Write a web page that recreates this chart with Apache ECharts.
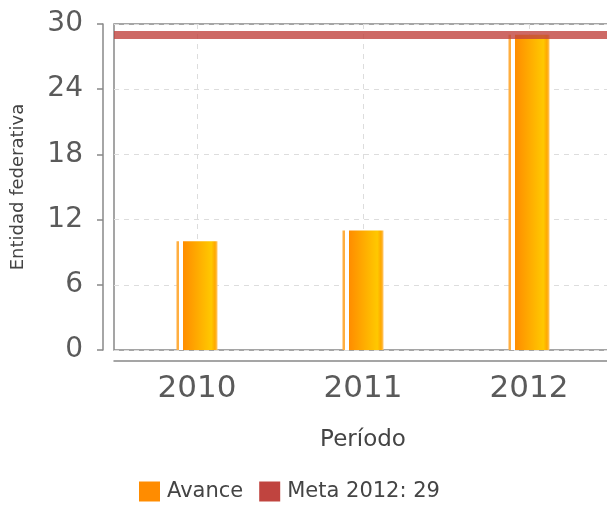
<!DOCTYPE html>
<html lang="es">
<head>
    <meta charset="UTF-8">
    <title>Avance</title>
    <script src="https://cdn.jsdelivr.net/npm/echarts@6/dist/echarts.min.js"></script>
    <style>
        html, body {
            margin: 0;
            padding: 0;
            background: #fff;
        }
        #chart {
            width: 607px;
            height: 508px;
        }
    </style>
</head>
<body>
<div id="chart"></div>
<script>
    // datos
    var periodos = ['2010', '2011', '2012'];
    var avance = [10, 11, 29];
    var meta = 29;
    var metaNombre = 'Meta 2012: ' + meta;

    var gris = '#5a5a5a';

    var barColor = {
        type: 'linear', x: 0, y: 0, x2: 1, y2: 0,
        colorStops: [
            {offset: 0, color: '#ffae40'},
            {offset: 0.07, color: '#ffae40'},
            {offset: 0.07, color: '#ffffff'},
            {offset: 0.15, color: '#ffffff'},
            {offset: 0.15, color: '#ff8c00'},
            {offset: 0.85, color: '#ffc800'},
            {offset: 0.94, color: '#ffa800'},
            {offset: 1, color: '#ffc870'}
        ]
    };

    var option = {
        animation: false,
        grid: {
            left: 114,
            top: 24,
            width: 498,
            bottom: 158,
            outerBoundsMode: 'none',
            containLabel: false,
            show: true,
            borderColor: '#888',
            borderWidth: 1.5
        },
        legend: {
            bottom: 1,
            left: 134,
            itemWidth: 21,
            itemHeight: 20,
            itemGap: 16,
            icon: 'rect',
            textStyle: {
                fontFamily: 'DejaVu Sans',
                fontSize: 21,
                color: '#444',
                padding: [0, 0, 0, 2]
            },
            data: [
                {name: 'Avance', itemStyle: {color: '#ff8c00'}},
                {name: metaNombre, itemStyle: {color: '#c0443f'}}
            ]
        },
        xAxis: {
            type: 'category',
            data: periodos,
            offset: 11,
            name: 'Período',
            nameLocation: 'middle',
            nameGap: 68,
            nameTextStyle: {
                fontFamily: 'DejaVu Sans',
                fontSize: 23,
                color: '#444'
            },
            axisLine: {show: true, onZero: false, lineStyle: {color: '#888', width: 1.5}},
            axisTick: {show: false},
            axisLabel: {
                margin: 12,
                fontFamily: 'DejaVu Sans',
                fontSize: 31,
                color: gris
            },
            splitLine: {
                show: true,
                alignWithLabel: true,
                lineStyle: {color: '#ddd', type: [5, 5]}
            }
        },
        yAxis: {
            type: 'value',
            min: 0,
            max: 30,
            interval: 6,
            offset: 11,
            name: 'Entidad federativa',
            nameLocation: 'middle',
            nameGap: 76,
            nameTextStyle: {
                fontFamily: 'DejaVu Sans',
                fontSize: 18,
                color: '#444'
            },
            axisLine: {show: true, lineStyle: {color: '#888', width: 1.5}},
            axisTick: {show: true, length: 6, lineStyle: {color: '#888', width: 1.5}},
            axisLabel: {
                margin: 20,
                fontFamily: 'DejaVu Sans',
                fontSize: 28,
                color: gris
            },
            splitLine: {
                show: true,
                lineStyle: {color: '#ddd', type: [5, 5]}
            }
        },
        series: [
            {
                name: 'Avance',
                type: 'bar',
                data: avance,
                barWidth: 41,
                itemStyle: {color: barColor}
            },
            {
                name: metaNombre,
                type: 'line',
                data: [],
                color: '#c0443f',
                markLine: {
                    silent: true,
                    symbol: 'none',
                    label: {show: false},
                    lineStyle: {color: '#c0443f', width: 8, type: 'solid', opacity: 0.8},
                    data: [{yAxis: meta}]
                }
            }
        ]
    };

    var myChart = echarts.init(document.getElementById('chart'));
    myChart.setOption(option);
</script>
</body>
</html>
